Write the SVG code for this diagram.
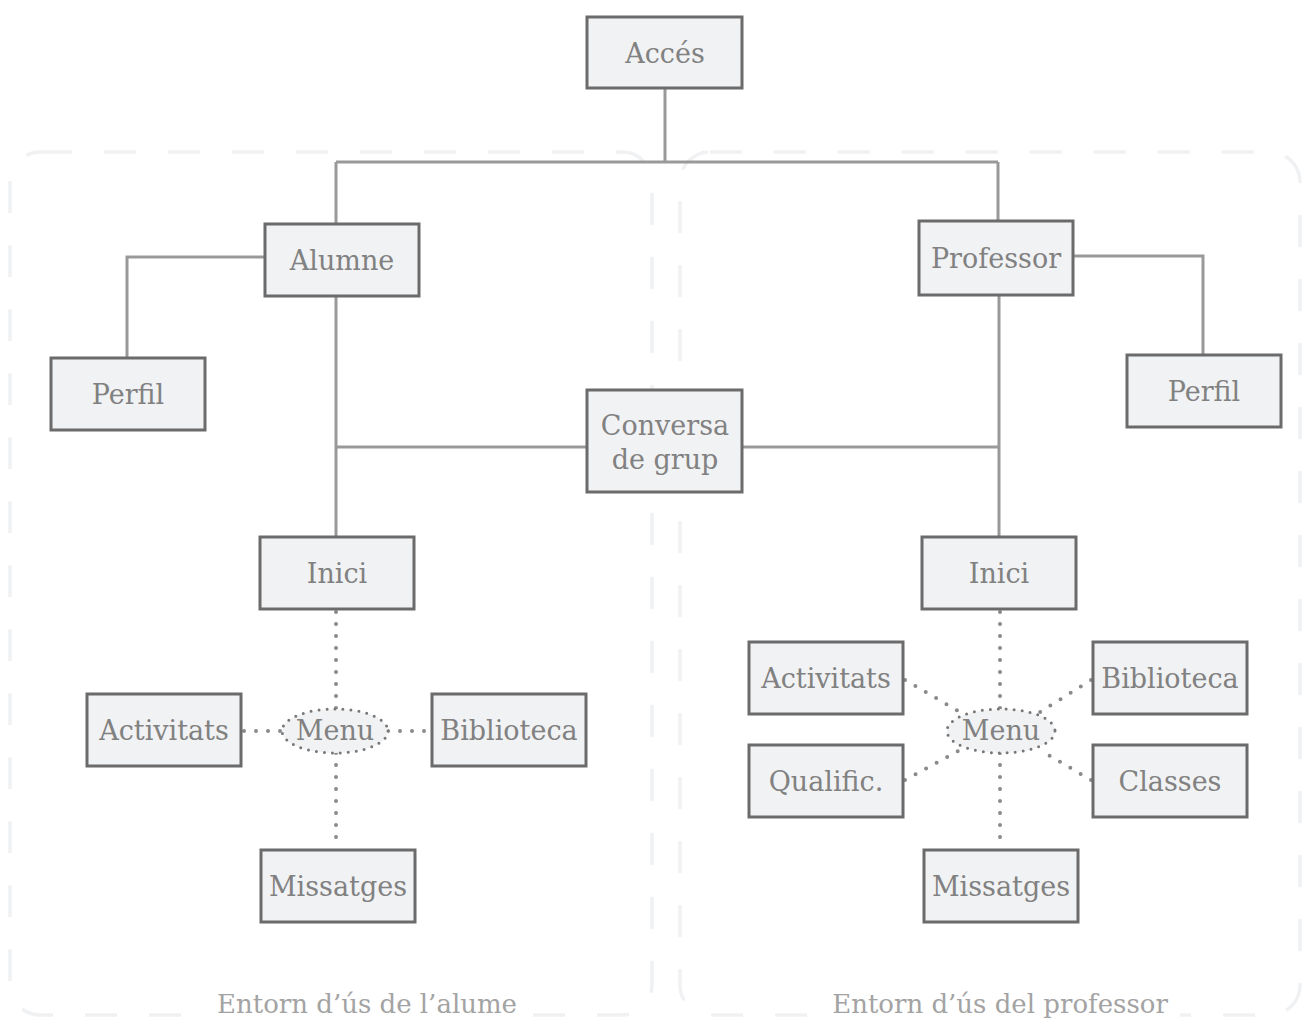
<svg xmlns="http://www.w3.org/2000/svg" width="1304" height="1018" viewBox="0 0 1304 1018">
<style>
.area{fill:none;stroke:#f0f1f3;stroke-width:3.5;stroke-dasharray:32 32}
.box{fill:#f1f2f4;stroke:#6b6b6b;stroke-width:3}
.lbl{font-family:"DejaVu Serif","Liberation Serif",serif;font-size:27px;fill:#818181;text-anchor:middle;dominant-baseline:central}
.cap{font-family:"DejaVu Serif","Liberation Serif",serif;font-size:26px;fill:#a3a3a3;text-anchor:middle}
.line{fill:none;stroke:#999;stroke-width:3}
.dot{fill:none;stroke:#8a8a8a;stroke-width:4;stroke-linecap:round;stroke-dasharray:0 12}
.menu{fill:#f1f2f4;stroke:#777;stroke-width:3;stroke-linecap:round;stroke-dasharray:0 8}
</style>
<rect width="1304" height="1018" fill="#fff"/>
<g id="areas">
<rect class="area" x="10" y="152" width="642" height="863" rx="30"/>
<rect class="area" x="680" y="152" width="620" height="863" rx="30"/>
<rect x="205" y="990" width="325" height="28" fill="#fff"/>
<rect x="820" y="990" width="360" height="28" fill="#fff"/>
<text class="cap" x="367" y="1013">Entorn d’ús de l’alume</text>
<text class="cap" x="1000" y="1013">Entorn d’ús del professor</text>
</g>
<g id="connectors">
<path class="line" d="M665 88V162M336 162H998M336 162V224M998 162V221"/>
<path class="line" d="M265 257H127V358"/>
<path class="line" d="M336 296V537M336 447H587M742 447H999M999 295V537"/>
<path class="line" d="M1073 256H1203V355"/>
<path class="dot" d="M336 612V709M336 753V848M244 731H282M388 731H430"/>
<path class="dot" d="M1000 612V709M1000 753V848M905 680L960 712M1091 680L1040 712M905 780L960 750M1091 780L1040 750"/>
</g>
<g id="acces"><rect class="box" x="587" y="17" width="155" height="71"/><text class="lbl" x="665" y="53">Accés</text></g>
<g id="alumne"><rect class="box" x="265" y="224" width="154" height="72"/><text class="lbl" x="342" y="260">Alumne</text></g>
<g id="perfil-a"><rect class="box" x="51" y="358" width="154" height="72"/><text class="lbl" x="128" y="394">Perfil</text></g>
<g id="professor"><rect class="box" x="919" y="221" width="154" height="74"/><text class="lbl" x="996" y="258">Professor</text></g>
<g id="perfil-p"><rect class="box" x="1127" y="355" width="154" height="72"/><text class="lbl" x="1204" y="391">Perfil</text></g>
<g id="conversa"><rect class="box" x="587" y="390" width="155" height="102"/><text class="lbl" x="665" y="425">Conversa</text><text class="lbl" x="665" y="459">de grup</text></g>
<g id="inici-a"><rect class="box" x="260" y="537" width="154" height="72"/><text class="lbl" x="337" y="573">Inici</text></g>
<g id="inici-p"><rect class="box" x="922" y="537" width="154" height="72"/><text class="lbl" x="999" y="573">Inici</text></g>
<g id="menu-a"><ellipse class="menu" cx="335" cy="731" rx="53" ry="22"/><text class="lbl" x="335" y="730">Menu</text></g>
<g id="activitats-a"><rect class="box" x="87" y="694" width="154" height="72"/><text class="lbl" x="164" y="730">Activitats</text></g>
<g id="biblioteca-a"><rect class="box" x="432" y="694" width="154" height="72"/><text class="lbl" x="509" y="730">Biblioteca</text></g>
<g id="missatges-a"><rect class="box" x="261" y="850" width="154" height="72"/><text class="lbl" x="338" y="886">Missatges</text></g>
<g id="menu-p"><ellipse class="menu" cx="1001" cy="731" rx="54" ry="22"/><text class="lbl" x="1001" y="730">Menu</text></g>
<g id="activitats-p"><rect class="box" x="749" y="642" width="154" height="72"/><text class="lbl" x="826" y="678">Activitats</text></g>
<g id="biblioteca-p"><rect class="box" x="1093" y="642" width="154" height="72"/><text class="lbl" x="1170" y="678">Biblioteca</text></g>
<g id="qualific"><rect class="box" x="749" y="745" width="154" height="72"/><text class="lbl" x="826" y="781">Qualific.</text></g>
<g id="classes"><rect class="box" x="1093" y="745" width="154" height="72"/><text class="lbl" x="1170" y="781">Classes</text></g>
<g id="missatges-p"><rect class="box" x="924" y="850" width="154" height="72"/><text class="lbl" x="1001" y="886">Missatges</text></g>
</svg>
